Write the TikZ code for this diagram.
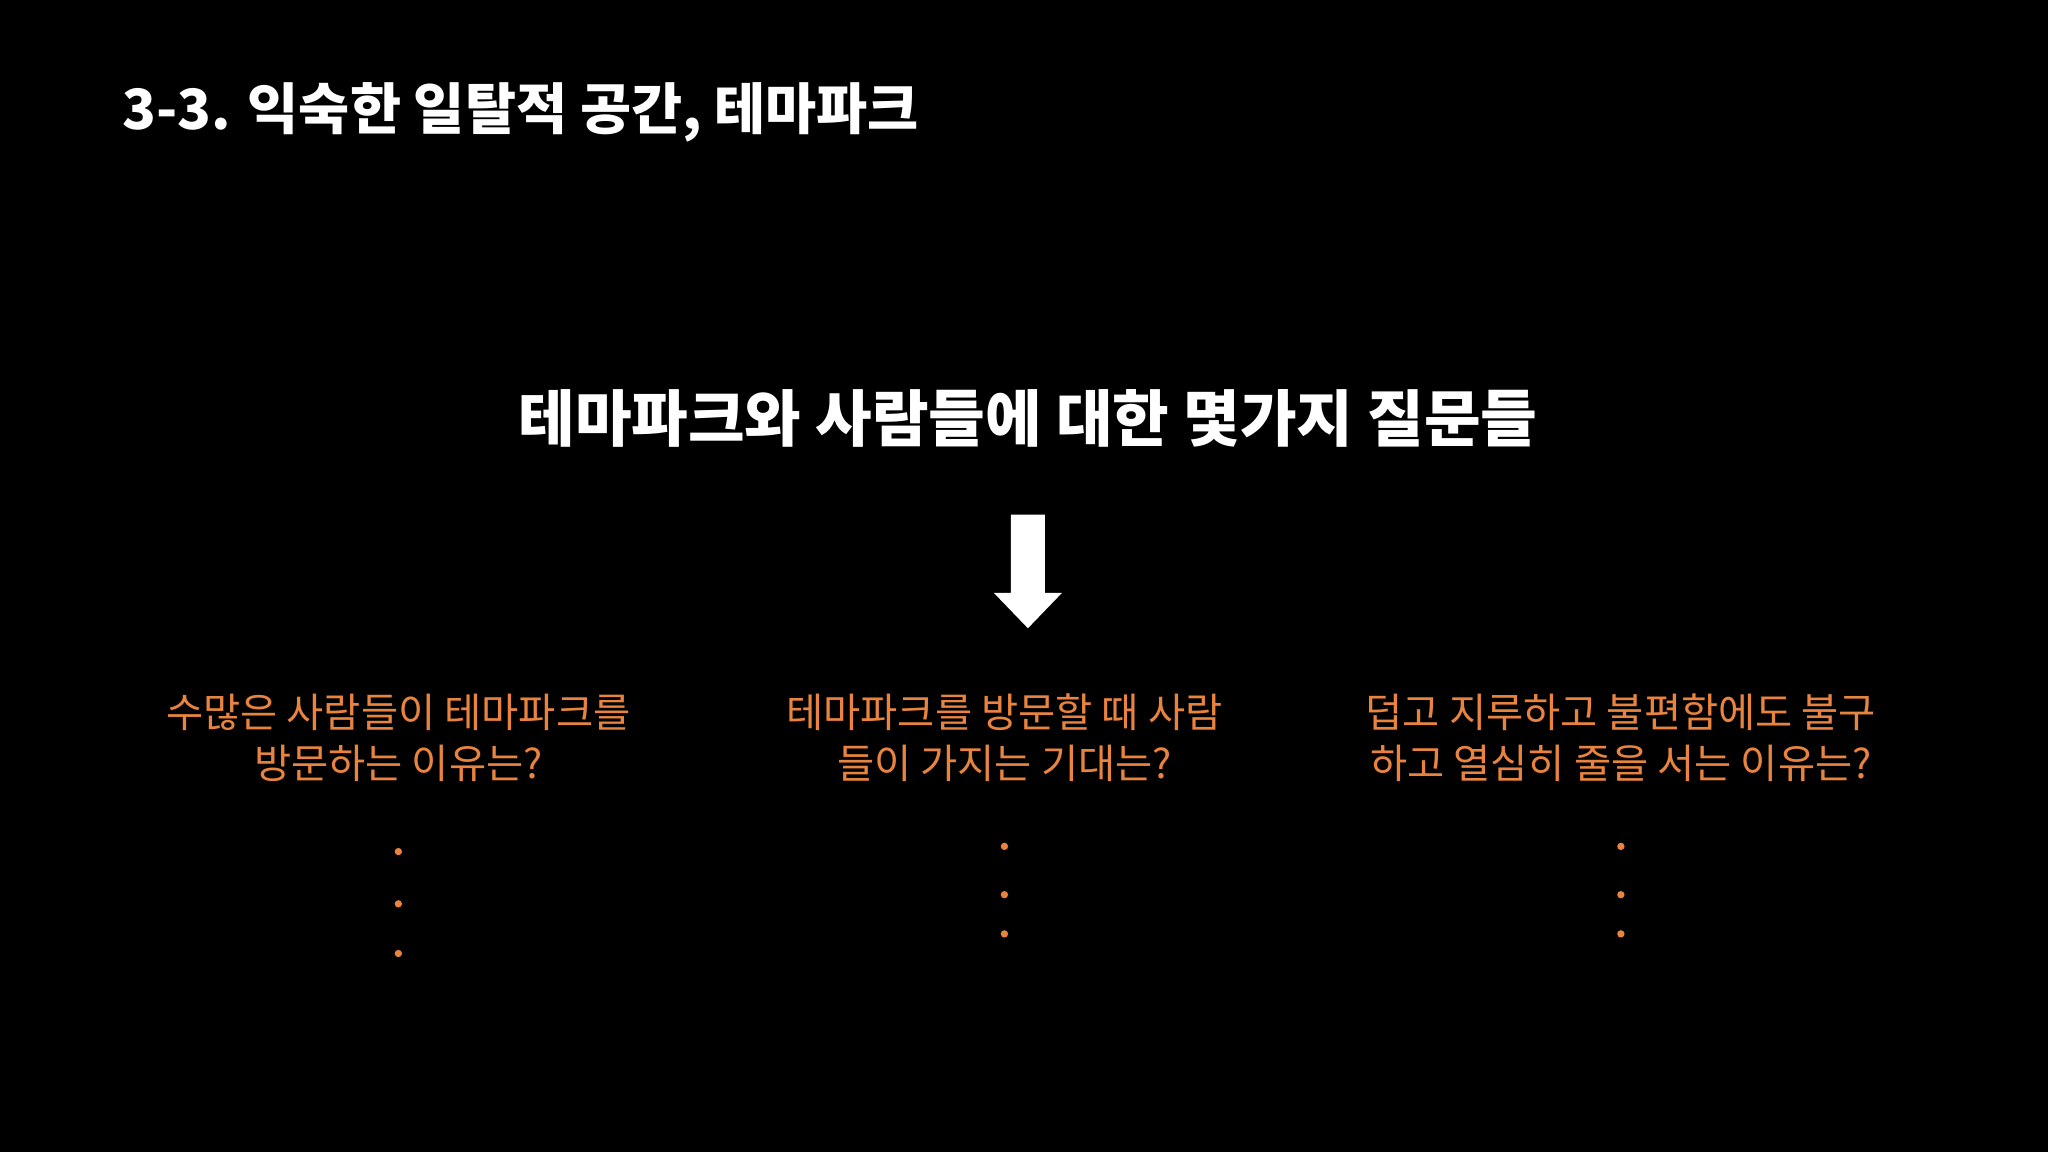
\documentclass[tikz,border=0pt]{standalone}
\usepackage{fontspec}
\setmainfont{Noto Sans CJK KR}
\definecolor{org}{HTML}{E8843F}
\begin{document}
\begin{tikzpicture}[x=0.01cm,y=-0.01cm,
  ttl/.style={text=white,font=\fontsize{12.1}{15}\selectfont\bfseries,inner sep=0},
  hd/.style={text=white,font=\fontsize{13.4}{16}\selectfont\bfseries,inner sep=0},
  q/.style={text=org,font=\fontsize{8.8}{11.2}\selectfont,align=center,inner sep=0},
  dt/.style={fill=org,circle,inner sep=0,minimum size=1.6pt}]
\fill[black] (0,0) rectangle (1568,882);
\node[ttl,anchor=west] (t) at (93,86) {3-3. 익숙한 일탈적 공간, 테마파크};
\node[hd] (h) at (787,320) {테마파크와 사람들에 대한 몇가지 질문들};
\fill[white] (774,394) -- (800,394) -- (800,454) -- (813,454) -- (787,481) -- (761,454) -- (774,454) -- cycle;
\node[q] (q1) at (305,565) {수많은 사람들이 테마파크를\\방문하는 이유는?};
\node[q] (q2) at (769,565) {테마파크를 방문할 때 사람\\들이 가지는 기대는?};
\node[q] (q3) at (1241,565) {덥고 지루하고 불편함에도 불구\\하고 열심히 줄을 서는 이유는?};
\foreach \y in {652,692,730} \node[dt] at (305,\y) {};
\foreach \y in {648,685,715} {\node[dt] at (769,\y) {}; \node[dt] at (1241,\y) {};}
\end{tikzpicture}
\end{document}
